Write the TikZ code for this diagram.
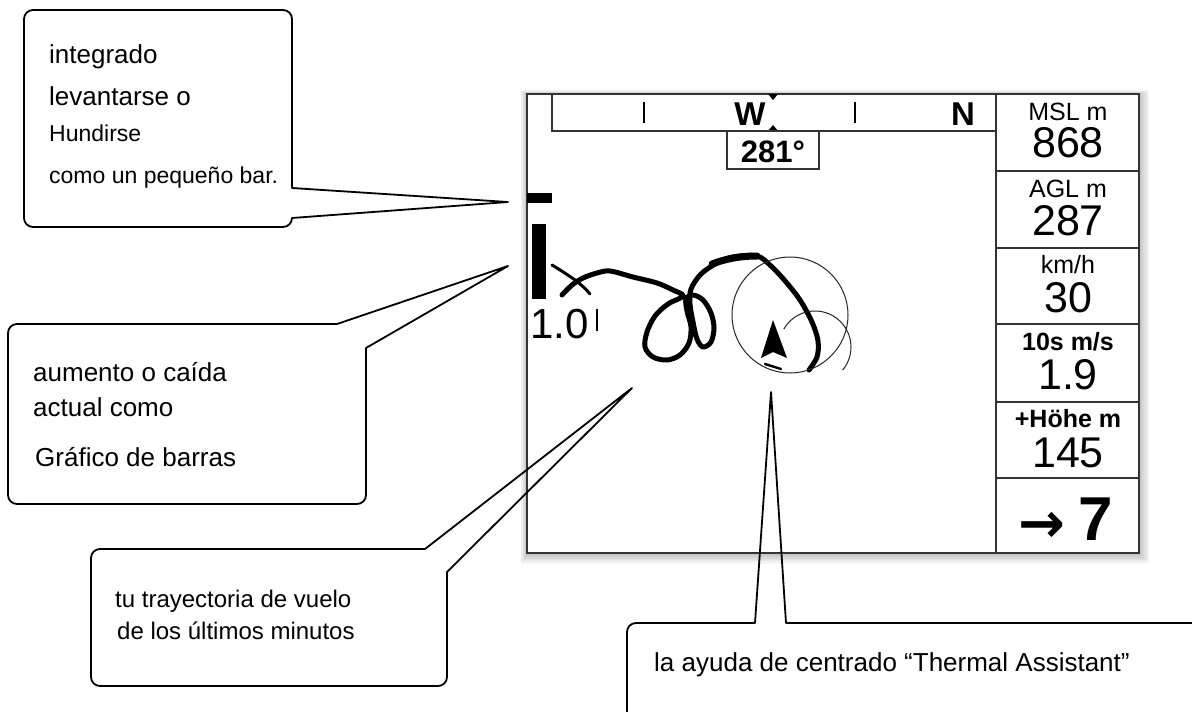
\documentclass[tikz,border=0pt]{standalone}
\usepackage{fontspec}
\setmainfont{Liberation Sans}
\newfontfamily\djv{DejaVu Sans}
\newcommand\fsz[1]{\fontsize{#1}{#1}\selectfont}
\begin{document}
\begin{tikzpicture}[x=1pt,y=-1pt,
  co/.style={draw=black, line width=1.8pt, line join=round},
  txt/.style={anchor=base west, inner sep=0pt, text=black},
  disp/.style={anchor=base, inner sep=0pt, text=black},
  frm/.style={draw=black!80, line width=1.3pt},
  trace/.style={draw=black, line width=5pt, line cap=round, line join=round},
  thin/.style={draw=black!85, line width=1pt}]
\useasboundingbox (0,0) rectangle (1192,712);
\clip (0,0) rectangle (1192,712);

% ---------- screen with shadow ----------
\foreach \i in {1,...,8}{
  \fill[black,opacity=0.03] ({527-\i*0.8},{94-\i*0.5}) rectangle ({1140+\i*1.1},{554+\i*1.2});
}
\node[frm, fill=white, anchor=north west, minimum width=612pt, minimum height=459pt, inner sep=0pt, outer sep=0pt] (screen) at (527,94) {};

% compass bar
\draw[frm] (552,94) rectangle (996,131);
\draw[line width=1.4pt] (644,102) -- (644,123);
\draw[line width=1.4pt] (855,102) -- (855,123);
\node[disp, font=\bfseries\fsz{33}] (W) at (750,125) {W};
\node[disp, font=\bfseries\fsz{33}] (N) at (963,125) {N};
\fill (768,94) -- (778,94) -- (773,100) -- cycle;
\fill (768,131) -- (778,131) -- (773,125) -- cycle;
\draw[frm] (727,131) rectangle (819,169);
\node[disp, font=\bfseries\fsz{31}] (hdg) at (773,162) {281°};

% right panel
\draw[frm] (996,94) -- (996,553);
\foreach \yy in {171,248,324,402,478}{ \draw[frm] (996,\yy) -- (1139,\yy); }
\node[disp, font=\fsz{25}] (l1) at (1068,120) {MSL m};
\node[disp, font=\fsz{43}] (v1) at (1068,157) {868};
\node[disp, font=\fsz{25}] (l2) at (1068,197) {AGL m};
\node[disp, font=\fsz{43}] (v2) at (1068,235) {287};
\node[disp, font=\fsz{25}] (l3) at (1068,273) {km/h};
\node[disp, font=\fsz{43}] (v3) at (1068,312) {30};
\node[disp, font=\bfseries\fsz{25}] (l4) at (1068,350) {10s m/s};
\node[disp, font=\fsz{43}] (v4) at (1068,389) {1.9};
\node[disp, font=\bfseries\fsz{25}] (l5) at (1068,427) {+Höhe m};
\node[disp, font=\fsz{43}] (v5) at (1068,467) {145};
\node[txt, font=\djv\bfseries\fsz{56}] (arr) at (1018,542) {→};
\node[txt, font=\bfseries\fsz{62}] (seven) at (1078,540) {7};

% vario bar
\fill (527,193) rectangle (552,203);
\fill (532,224) rectangle (546,299);
\node[txt, font=\fsz{42}] (vario) at (530,338) {1.0};
\draw[line width=2.4pt] (597,309) -- (597,331);

% flight trace
\draw[line width=3pt, line cap=round] (552,265) .. controls (570,276) and (582,284) .. (590,294);
\draw[trace] plot[smooth, tension=0.55] coordinates {
 (562,295) (572,285) (583,278) (597,273) (610,271) (633,277) (657,283) (673,290) (683,296)
 (668,304) (655,316) (647,332) (645,347) (653,357) (667,360) (680,355) (689,343) (691,327)
 (687,311) (686,299) (693,295) (703,300) (711,313) (714,328) (711,342) (703,347) (697,339)
 (693,322) (690,304) (691,289) (701,274) (717,263) (733,257) (757,256) (771,266) (786,282)
 (800,300) (812,322) (818,341) (817,357) (809,370)};
\draw[line width=7pt, line cap=round] (712,264) .. controls (725,259) and (740,256) .. (757,256);

% thermal assistant circles and glider
\draw[thin] (790,315) circle[radius=58];
\draw[thin] (815,347) ++(210:36) arc[start angle=210, end angle=400, radius=36];
\fill (773,320) -- (761,358) -- (773,352) -- (787,358) -- cycle;
\draw[line width=2.4pt, line cap=round] (765,364) -- (781,369);

% ---------- callouts ----------
% callout 1
\coordinate (tip1) at (508,202);
\draw[co] (292,188) -- (292,19) arc[start angle=0, end angle=-90, radius=9]
  -- (33,10) arc[start angle=270, end angle=180, radius=9]
  -- (24,218) arc[start angle=180, end angle=90, radius=9]
  -- (283,227) arc[start angle=90, end angle=0, radius=9]
  -- (292,218) -- (tip1) -- cycle;
\node[txt, font=\fsz{26}] (t1a) at (49,63) {integrado};
\node[txt, font=\fsz{26}] (t1b) at (49,105) {levantarse o};
\node[txt, font=\fsz{23}] (t1c) at (49,141) {Hundirse};
\node[txt, font=\fsz{23}] (t1d) at (49,183) {como un pequeño bar.};

% callout 2
\coordinate (tip2) at (508,266);
\draw[co] (337,324) -- (17,324) arc[start angle=270, end angle=180, radius=9]
  -- (8,495) arc[start angle=180, end angle=90, radius=9]
  -- (357,504) arc[start angle=90, end angle=0, radius=9]
  -- (366,348) -- (tip2) -- cycle;
\node[txt, font=\fsz{26}] (t2a) at (33,381) {aumento o caída};
\node[txt, font=\fsz{26}] (t2b) at (33,416) {actual como};
\node[txt, font=\fsz{26}] (t2c) at (35,466) {Gráfico de barras};

% callout 3
\coordinate (tip3) at (632,388);
\draw[co] (425,549) -- (100,549) arc[start angle=270, end angle=180, radius=9]
  -- (91,677) arc[start angle=180, end angle=90, radius=9]
  -- (438,686) arc[start angle=90, end angle=0, radius=9]
  -- (447,572) -- (tip3) -- cycle;
\node[txt, font=\fsz{24}] (t3a) at (115,607) {tu trayectoria de vuelo};
\node[txt, font=\fsz{24}] (t3b) at (117,639) {de los últimos minutos};

% callout 4
\coordinate (tip4) at (771,392);
\draw[co] (786,623) -- (1230,623) -- (1230,760) -- (627,760)
  -- (627,632) arc[start angle=180, end angle=270, radius=9]
  -- (755,623) -- (tip4) -- cycle;
\node[txt, font=\fsz{26}] (t4) at (654,671) {la ayuda de centrado “Thermal Assistant”};
\end{tikzpicture}
\end{document}
